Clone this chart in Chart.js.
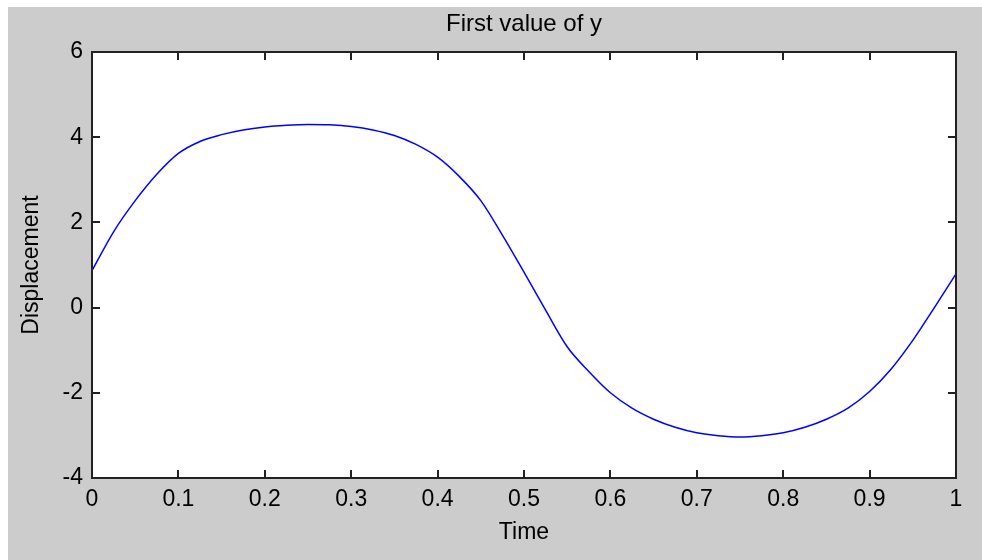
<!DOCTYPE html>
<html>
<head>
<meta charset="utf-8">
<script src="https://cdn.jsdelivr.net/npm/chart.js@4/dist/chart.umd.min.js"></script>
<style>
  html, body { margin: 0; padding: 0; background: #ffffff; }
  #wrap { position: relative; width: 982px; height: 560px; }
</style>
</head>
<body>
<div id="wrap"><canvas id="yChart" width="982" height="560"></canvas></div>
<script>
var times = [0, 0.025, 0.05, 0.075, 0.1, 0.125, 0.15, 0.175, 0.2, 0.225,
             0.25, 0.275, 0.3, 0.325, 0.35, 0.375, 0.4, 0.425, 0.45, 0.475,
             0.5, 0.525, 0.55, 0.575, 0.6, 0.625, 0.65, 0.675, 0.7, 0.725,
             0.75, 0.775, 0.8, 0.825, 0.85, 0.875, 0.9, 0.925, 0.95, 0.975, 1];
var displacement = [0.87, 1.78, 2.51, 3.13, 3.62, 3.90, 4.06, 4.17, 4.24, 4.28,
                    4.30, 4.29, 4.25, 4.17, 4.04, 3.83, 3.53, 3.08, 2.51, 1.70,
                    0.83, -0.06, -0.92, -1.50, -2.00, -2.36, -2.62, -2.81, -2.94, -3.01,
                    -3.04, -3.01, -2.94, -2.81, -2.62, -2.36, -1.97, -1.44, -0.77, 0.00, 0.79];
var xTickLabels = ['0', '0.1', '0.2', '0.3', '0.4', '0.5', '0.6', '0.7', '0.8', '0.9', '1'];
var yTickLabels = ['-4', '-2', '0', '2', '4', '6'];

var points = times.map(function (t, i) { return {x: t, y: displacement[i]}; });

// grey figure background, white strip on the top and left edges
var figureBg = {
  id: 'figureBg',
  beforeDraw: function (chart) {
    var c = chart.ctx;
    c.save();
    c.fillStyle = '#ffffff';
    c.fillRect(0, 0, chart.width, chart.height);
    c.fillStyle = '#cccccc';
    c.fillRect(8, 7, chart.width - 8, chart.height - 7);
    var a = chart.chartArea;
    c.fillStyle = '#ffffff';
    c.fillRect(a.left, a.top, a.right - a.left, a.bottom - a.top);
    c.restore();
  }
};

// box round the axes and inward tick marks on all four sides
var axesBox = {
  id: 'axesBox',
  afterDraw: function (chart) {
    var c = chart.ctx, a = chart.chartArea;
    var xs = chart.scales.x, ys = chart.scales.y;
    var len = 8;
    c.save();
    c.strokeStyle = '#222222';
    c.lineWidth = 2;
    c.beginPath();
    xs.ticks.forEach(function (t) {
      var px = Math.round(xs.getPixelForValue(t.value));
      c.moveTo(px, a.bottom); c.lineTo(px, a.bottom - len);
      c.moveTo(px, a.top); c.lineTo(px, a.top + len);
    });
    ys.ticks.forEach(function (t) {
      var py = Math.round(ys.getPixelForValue(t.value));
      c.moveTo(a.left, py); c.lineTo(a.left + len, py);
      c.moveTo(a.right, py); c.lineTo(a.right - len, py);
    });
    c.stroke();
    c.strokeRect(a.left, a.top, a.right - a.left, a.bottom - a.top);
    c.restore();
  }
};

var fontFamily = '"Liberation Sans", Arial, sans-serif';

var ctx = document.getElementById('yChart').getContext('2d');
var yChart = new Chart(ctx, {
  type: 'line',
  data: {
    datasets: [{
      data: points,
      borderColor: '#0000ff',
      borderWidth: 1.5,
      pointRadius: 0,
      fill: false,
      cubicInterpolationMode: 'monotone'
    }]
  },
  options: {
    responsive: false,
    animation: false,
    layout: { padding: { left: 0, right: 26, top: 0, bottom: 0 } },
    plugins: {
      legend: { display: false },
      tooltip: { enabled: false },
      title: {
        display: true,
        text: 'First value of y',
        fullSize: false,
        color: '#000000',
        font: { family: fontFamily, size: 24, weight: 'normal' },
        padding: { top: 10, bottom: 13.2 }
      }
    },
    scales: {
      x: {
        type: 'linear',
        min: 0,
        max: 1,
        afterFit: function (s) { s.height = 82; },
        grid: { display: false, drawTicks: false },
        border: { display: false },
        ticks: {
          stepSize: 0.1,
          padding: 8,
          maxRotation: 0,
          color: '#000000',
          font: { family: fontFamily, size: 23 },
          callback: function (v, i) { return xTickLabels[i]; }
        },
        title: {
          display: true,
          text: 'Time',
          color: '#000000',
          font: { family: fontFamily, size: 23 },
          padding: { top: 0, bottom: 14 }
        }
      },
      y: {
        min: -4,
        max: 6,
        afterFit: function (s) { s.width = 92; },
        grid: { display: false, drawTicks: false },
        border: { display: false },
        ticks: {
          stepSize: 2,
          padding: 9,
          color: '#000000',
          font: { family: fontFamily, size: 23 },
          callback: function (v, i) { return yTickLabels[i]; }
        },
        title: {
          display: true,
          text: 'Displacement',
          color: '#000000',
          font: { family: fontFamily, size: 23 },
          padding: { top: 18, bottom: 0 }
        }
      }
    }
  },
  plugins: [figureBg, axesBox]
});
</script>
</body>
</html>
